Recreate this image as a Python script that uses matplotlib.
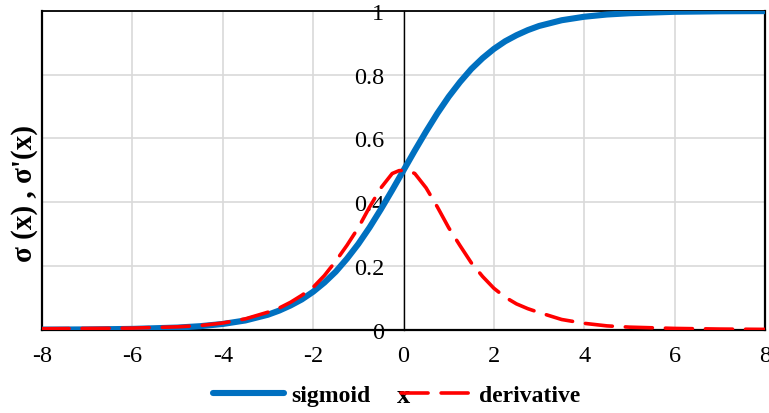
import matplotlib
matplotlib.use("Agg")
import matplotlib.pyplot as plt

# values
x_sig = [-8, -7, -6, -5, -4.5, -4, -3.5, -3, -2.75, -2.5, -2.25, -2, -1.75, -1.5,
         -1.25, -1, -0.75, -0.5, -0.25, 0, 0.25, 0.5, 0.75, 1, 1.25, 1.5, 1.75, 2,
         2.25, 2.5, 2.75, 3, 3.5, 4, 4.5, 5, 6, 7, 8]
y_sig = [0.0003, 0.0009, 0.0025, 0.0067, 0.011, 0.018, 0.029, 0.047, 0.060, 0.076,
         0.095, 0.119, 0.148, 0.182, 0.223, 0.269, 0.321, 0.378, 0.438, 0.5, 0.562,
         0.622, 0.679, 0.731, 0.777, 0.818, 0.852, 0.881, 0.905, 0.924, 0.940, 0.953,
         0.971, 0.982, 0.989, 0.993, 0.9975, 0.9991, 0.9997]

x_der = [-8, -7, -6, -5, -4.5, -4, -3.5, -3, -2.75, -2.5, -2.25, -2, -1.75, -1.5,
         -1.25, -1, -0.75, -0.5, -0.25, -0.1, 0, 0.1, 0.25, 0.5, 0.75, 1, 1.25, 1.5,
         1.75, 2, 2.25, 2.5, 2.75, 3, 3.5, 4, 4.5, 5, 6, 7, 8]
y_der = [0.003, 0.004, 0.005, 0.009, 0.013, 0.021, 0.034, 0.055, 0.068, 0.086,
         0.108, 0.133, 0.17, 0.215, 0.265, 0.32, 0.385, 0.445, 0.49, 0.499, 0.5,
         0.499, 0.49, 0.445, 0.385, 0.32, 0.264, 0.21, 0.167, 0.13, 0.102, 0.081,
         0.066, 0.054, 0.032, 0.02, 0.012, 0.008, 0.004, 0.002, 0.001]

x_ticks = [-8, -6, -4, -2, 0, 2, 4, 6, 8]
x_labels = ["-8", "-6", "-4", "-2", "0", "2", "4", "6", "8"]
y_ticks = [0, 0.2, 0.4, 0.6, 0.8, 1]
y_labels = ["0", "0.2", "0.4", "0.6", "0.8", "1"]

plt.rcParams['font.family'] = ['Liberation Serif', 'DejaVu Serif']

fig = plt.figure(figsize=(7.69, 4.14), dpi=100)
ax = fig.add_axes([42 / 769, 83.3 / 414, 723 / 769, 318.7 / 414])

ax.plot(x_sig, y_sig, color='#0070C0', lw=4.4, label='sigmoid',
        solid_capstyle='round', zorder=4)
ax.plot(x_der, y_der, color='#FF0000', lw=2.6, label='derivative',
        dashes=(7.5, 3.6), dash_capstyle='round', zorder=5)

ax.set_xlim(-8, 8)
ax.set_ylim(0, 1)
ax.set_xticks(x_ticks)
ax.set_xticklabels(x_labels)
ax.set_yticks(y_ticks)
ax.set_yticklabels(y_labels)
ax.tick_params(axis='both', length=0, labelsize=17.5)
ax.tick_params(axis='x', pad=11)
ax.tick_params(axis='y', pad=14)

ax.grid(True, color='#D9D9D9', lw=1.2, zorder=0)
ax.set_axisbelow(True)

# y axis crosses at x = 0, with a frame around the plot area
ax.spines['left'].set_position(('data', 0))
ax.spines['left'].set_linewidth(1.0)
ax.spines['bottom'].set_linewidth(1.6)
ax.spines['top'].set_linewidth(1.3)
ax.spines['right'].set_linewidth(1.6)
ax.axvline(-8, color='black', lw=1.6, clip_on=False, zorder=3)

ax.set_xlabel('x', fontsize=19, fontweight='bold')
ax.xaxis.set_label_coords(0.5, -0.17)
ax.set_ylabel("σ (x) , σ'(x)", fontsize=21, fontweight='bold')
ax.yaxis.set_label_coords(-0.006, 0.43)

fig.legend(loc='center', bbox_to_anchor=(397 / 769, 1 - 396 / 414), ncol=2,
           frameon=False, prop={'weight': 'bold', 'size': 17},
           handlelength=3.0, handletextpad=0.3, columnspacing=1.3)

fig.savefig('out.png', dpi=100)
